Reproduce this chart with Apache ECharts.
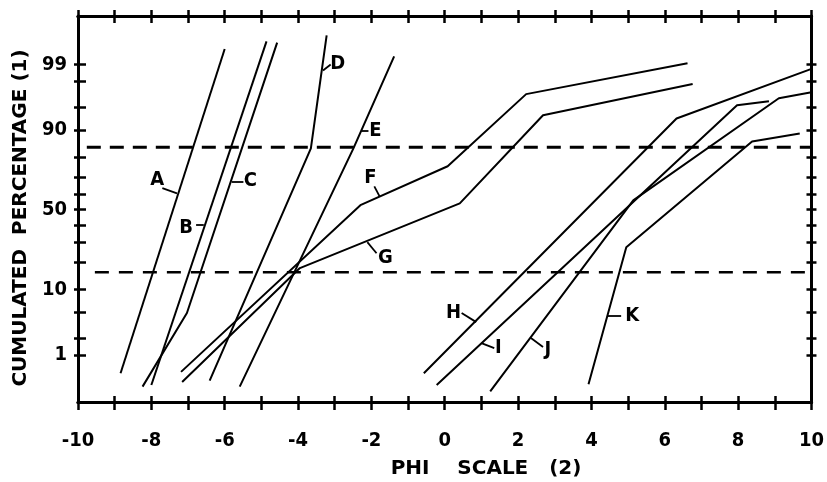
<!DOCTYPE html>
<html>
<head>
<meta charset="utf-8">
<script src="https://cdn.jsdelivr.net/npm/echarts@6/dist/echarts.min.js"></script>
<style>html,body{margin:0;padding:0;background:#fff}#c{width:827px;height:482px}</style>
</head>
<body>
<div id="c"></div>
<script>
// ---- data (phi, cumulated percentage) ----
const xTickLabels = [-10, -8, -6, -4, -2, 0, 2, 4, 6, 8, 10];
const yTickLabels = [1, 10, 50, 90, 99];
const yTickMarks = [1, 2, 5, 10, 20, 30, 40, 50, 60, 70, 80, 90, 95, 98, 99];
const seriesNames = ['A','B','C','D','E','F','G','H','I','J','K'];
const lineA = [[-8.84, 0.44], [-6.0, 99.5]];
const lineB = [[-8.0, 0.25], [-4.86, 99.65]];
const lineC = [[-8.24, 0.23], [-7.03, 4.9], [-4.57, 99.63]];
const lineD = [[-6.41, 0.31], [-3.65, 83.7], [-3.22, 99.74]];
const lineE = [[-5.59, 0.23], [-2.49, 83.7], [-1.38, 99.3]];
const lineF = [[-7.19, 0.47], [-2.30, 52.9], [0.08, 75.7], [2.22, 96.8], [6.62, 99.05]];
const lineG = [[-7.16, 0.29], [-3.95, 17.5], [0.41, 54.1], [2.68, 93.5], [6.76, 97.8]];
const lineH = [[-0.57, 0.44], [6.32, 92.8], [10.0, 98.8]];
const lineI = [[-0.22, 0.25], [7.97, 95.3], [8.84, 95.9]];
const lineJ = [[1.24, 0.18], [5.14, 56.0], [9.11, 96.3], [10.0, 97.0]];
const lineK = [[3.92, 0.26], [4.95, 27.4], [8.38, 86.3], [9.68, 88.9]];
const dashUpper = [[-9.76, 84.13], [10, 84.13]];
const dashLower = [[-9.54, 15.87], [10, 15.87]];
// curve label anchors (phi, %), and leader segments
const labelPos = [[-7.84, 68.2], [-7.05, 38.4], [-5.30, 67.6], [-2.92, 99.05], [-1.89, 89.8],
  [-2.03, 69.3], [-1.62, 21.9], [0.24, 4.89], [1.46, 1.33], [2.81, 1.23], [5.11, 4.42]];
const leaders = [
  [[-7.70, 63.5], [-7.30, 60.4]],
  [[-6.78, 40.2], [-6.57, 40.2]],
  [[-5.81, 67.6], [-5.49, 67.6]],
  [[-3.32, 98.72], [-3.11, 99.0]],
  [[-2.27, 89.8], [-2.08, 89.8]],
  [[-1.92, 64.6], [-1.78, 58.6]],
  [[-2.11, 30.2], [-1.86, 24.3]],
  [[0.46, 4.89], [0.86, 3.59]],
  [[1.0, 1.63], [1.35, 1.33]],
  [[2.35, 1.99], [2.68, 1.39]],
  [[4.43, 4.42], [4.81, 4.42]]
];

// ---- probability (probit) scale ----
function probit(p) {
  const a = [-3.969683028665376e+01, 2.209460984245205e+02, -2.759285104469687e+02, 1.383577518672690e+02, -3.066479806614716e+01, 2.506628277459239e+00];
  const b = [-5.447609879822406e+01, 1.615858368580409e+02, -1.556989798598866e+02, 6.680131188771972e+01, -1.328068192528383e+01];
  const c = [-7.784894002430293e-03, -3.223964580411365e-01, -2.400758277161838e+00, -2.549732539343734e+00, 4.374664141464968e+00, 2.938163982698783e+00];
  const d = [7.784695709041462e-03, 3.224671290700398e-01, 2.445134137142996e+00, 3.754408661907416e+00];
  const pl = 0.02425;
  let q, r;
  if (p < pl) {
    q = Math.sqrt(-2 * Math.log(p));
    return (((((c[0]*q+c[1])*q+c[2])*q+c[3])*q+c[4])*q+c[5]) / ((((d[0]*q+d[1])*q+d[2])*q+d[3])*q+1);
  } else if (p <= 1 - pl) {
    q = p - 0.5; r = q * q;
    return (((((a[0]*r+a[1])*r+a[2])*r+a[3])*r+a[4])*r+a[5])*q / (((((b[0]*r+b[1])*r+b[2])*r+b[3])*r+b[4])*r+1);
  } else {
    q = Math.sqrt(-2 * Math.log(1 - p));
    return -(((((c[0]*q+c[1])*q+c[2])*q+c[3])*q+c[4])*q+c[5]) / ((((d[0]*q+d[1])*q+d[2])*q+d[3])*q+1);
  }
}
const toZ = pt => [pt[0], probit(pt[1] / 100)];

const FONT = "'DejaVu Sans Condensed', 'DejaVu Sans', sans-serif";
const TFONT = "'DejaVu Sans', sans-serif";
const X_MIN = -10, X_MAX = 10, Y_MIN = -3.08, Y_MAX = 3.104;

const chart = echarts.init(document.getElementById('c'), null, {renderer: 'canvas'});

function xAx(pos, inside, len, labels) {
  return {
    type: 'value', position: pos, min: X_MIN, max: X_MAX, interval: 1,
    axisLine: {show: true, onZero: false, lineStyle: {color: '#000', width: 3}},
    axisTick: {show: true, inside: inside, length: len, lineStyle: {color: '#000', width: 2.5}},
    axisLabel: labels ? {
      show: true, margin: 29, color: '#000', fontSize: 20, fontFamily: FONT, fontWeight: 'bold',
      formatter: v => (xTickLabels.indexOf(v) >= 0 ? String(v) : '')
    } : {show: false},
    splitLine: {show: false}
  };
}
const yTickZ = yTickMarks.map(p => probit(p / 100));
const yLabelZ = yTickLabels.map(p => probit(p / 100));
function yAx(pos, inside, len, labels) {
  return {
    type: 'value', position: pos, min: Y_MIN, max: Y_MAX,
    axisLine: {show: true, onZero: false, lineStyle: {color: '#000', width: 3}},
    axisTick: {show: true, inside: inside, length: len, customValues: yTickZ, lineStyle: {color: '#000', width: 2.5}},
    axisLabel: labels ? {
      show: true, margin: 11, color: '#000', fontSize: 20, fontFamily: FONT, fontWeight: 'bold',
      customValues: yLabelZ,
      formatter: v => {
        let best = yTickLabels[0], bd = 1e9;
        yTickLabels.forEach((p, i) => { const dd = Math.abs(yLabelZ[i] - v); if (dd < bd) { bd = dd; best = p; } });
        return String(best);
      }
    } : {show: false},
    splitLine: {show: false}
  };
}

const curves = [lineA, lineB, lineC, lineD, lineE, lineF, lineG, lineH, lineI, lineJ, lineK];
const series = curves.map((arr, i) => ({
  name: seriesNames[i], type: 'line', xAxisIndex: 0, yAxisIndex: 0,
  data: arr.map(toZ), symbol: 'none', silent: true, animation: false,
  lineStyle: {color: '#000', width: 2}
}));
series.push({
  type: 'line', data: dashUpper.map(toZ), symbol: 'none', animation: false,
  lineStyle: {color: '#000', width: 3, type: [14, 9]}
});
series.push({
  type: 'line', data: dashLower.map(toZ), symbol: 'none', animation: false,
  lineStyle: {color: '#000', width: 2.5, type: [14, 10]}
});
series.push({
  type: 'lines', coordinateSystem: 'cartesian2d', animation: false, silent: true,
  data: leaders.map(seg => ({coords: seg.map(toZ)})),
  lineStyle: {color: '#000', width: 1.8, opacity: 1, curveness: 0}
});
series.push({
  type: 'scatter', animation: false, silent: true, symbolSize: 0,
  itemStyle: {opacity: 1, color: '#000'},
  data: labelPos.map((p, i) => ({value: toZ(p), name: seriesNames[i]})),
  label: {show: true, position: 'inside', formatter: p => p.name, color: '#000', opacity: 1,
    fontSize: 20, fontFamily: FONT, fontWeight: 'bold'}
});

chart.setOption({
  animation: false,
  backgroundColor: '#fff',
  grid: {left: 78, right: 7, top: 16, bottom: 80, containLabel: false},
  xAxis: [xAx('bottom', false, 8, true), xAx('bottom', true, 6, false), xAx('top', false, 6, false), xAx('top', true, 7, false)],
  yAxis: [yAx('left', false, 4, true), yAx('left', true, 8, false), yAx('right', false, 5, false), yAx('right', true, 5, false)],
  series: series,
  graphic: [
    {type: 'text', x: 21, y: 218, rotation: Math.PI / 2,
      style: {text: 'CUMULATED  PERCENTAGE (1)', fill: '#000', font: 'bold 20px ' + TFONT, textAlign: 'center', textVerticalAlign: 'middle'}},
    {type: 'text', x: 486, y: 469,
      style: {text: 'PHI    SCALE   (2)', fill: '#000', font: 'bold 20px ' + TFONT, textAlign: 'center', textVerticalAlign: 'middle'}}
  ]
});
</script>
</body>
</html>
